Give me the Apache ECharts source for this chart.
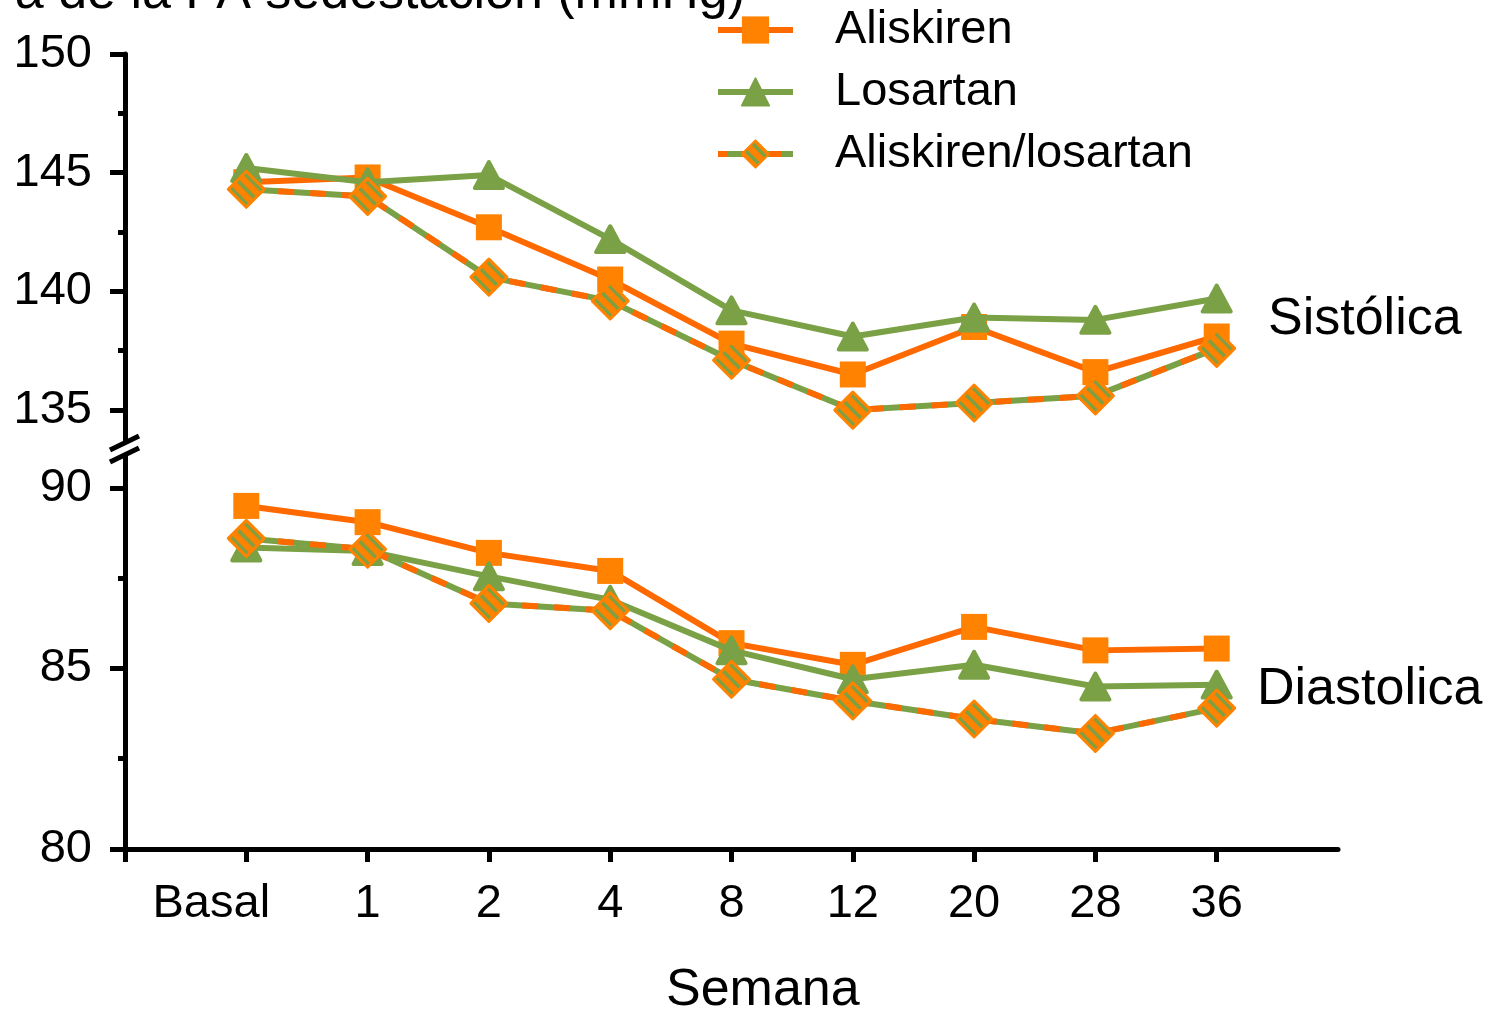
<!DOCTYPE html>
<html>
<head>
<meta charset="utf-8">
<script src="https://cdn.jsdelivr.net/npm/echarts@6/dist/echarts.min.js"></script>
<style>
html,body{margin:0;padding:0;background:#fff;}
#chart{width:1496px;height:1011px;}
</style>
</head>
<body>
<div id="chart"></div>
<script>
// ---- data ----
const weekLabels = ['Basal', '1', '2', '4', '8', '12', '20', '28', '36'];
const sysAliskiren = [144.6, 144.8, 142.7, 140.5, 137.8, 136.5, 138.5, 136.6, 138.1];
const sysLosartan  = [145.2, 144.6, 144.9, 142.2, 139.2, 138.1, 138.9, 138.8, 139.7];
const sysCombo     = [144.3, 144.0, 140.6, 139.6, 137.1, 135.0, 135.3, 135.6, 137.6];
const diaAliskiren = [89.5, 89.05, 88.2, 87.7, 85.7, 85.1, 86.15, 85.5, 85.55];
const diaLosartan  = [88.35, 88.25, 87.55, 86.9, 85.5, 84.7, 85.1, 84.5, 84.55];
const diaCombo     = [88.6, 88.3, 86.8, 86.6, 84.7, 84.1, 83.6, 83.2, 83.9];
const sysTicks = [135, 140, 145, 150];
const sysMinorTicks = [137.5, 142.5, 147.5];
const diaTicks = [80, 85, 90];
const diaMinorTicks = [82.5, 87.5];

const categories = [''].concat(weekLabels).concat(['']);
const toPts = arr => arr.map((v, i) => [i + 1, v]);

const ORANGE_LINE = '#FF6A00';
const ORANGE = '#FF8200';
const GREEN = '#7AA145';
const FONT = 'Liberation Sans, Arial, sans-serif';
const DIAMOND = 36;

// striped pattern for combination symbol
const tile = document.createElement('canvas');
tile.width = 14; tile.height = 14;
const c = tile.getContext('2d');
c.fillStyle = ORANGE; c.fillRect(0, 0, 14, 14);
c.strokeStyle = GREEN; c.lineWidth = 3.5;
c.beginPath();
c.moveTo(-2, -2); c.lineTo(16, 16);
c.moveTo(-9, 5); c.lineTo(2, 16);
c.moveTo(5, -9); c.lineTo(16, 2);
c.stroke();
// series symbols are drawn as a 2x2 path scaled up, so the pattern is scaled back down
const k = 2 / DIAMOND;
const stripesSeries = { image: tile, repeat: 'repeat', scaleX: k, scaleY: k };
const stripesLegend = { image: tile, repeat: 'repeat' };

// alternating orange/green line for the legend icon of the combination
const legendStops = [];
const nSeg = 6;
for (let i = 0; i < nSeg; i++) {
  const col = i % 2 === 0 ? ORANGE_LINE : GREEN;
  legendStops.push({ offset: i / nSeg, color: col });
  legendStops.push({ offset: (i + 1) / nSeg - 0.0001, color: col });
}
const legendComboLine = { type: 'linear', x: 0, y: 0, x2: 1, y2: 0, colorStops: legendStops };

const chart = echarts.init(document.getElementById('chart'), null, { renderer: 'canvas' });

function yMain(gridIndex, min, max, ticks) {
  return {
    type: 'value', gridIndex, min, max, position: 'left',
    splitLine: { show: false },
    axisLine: { show: true, lineStyle: { color: '#000', width: 5 } },
    axisTick: { show: true, customValues: ticks, length: 15, lineStyle: { color: '#000', width: 5 } },
    axisLabel: { show: true, customValues: ticks, margin: 33, color: '#000', fontSize: 47, fontFamily: FONT }
  };
}
function yMinor(gridIndex, min, max, ticks) {
  return {
    type: 'value', gridIndex, min, max, position: 'left', offset: 0,
    splitLine: { show: false },
    axisLine: { show: false },
    axisTick: { show: true, customValues: ticks, length: 7, lineStyle: { color: '#000', width: 5 } },
    axisLabel: { show: false }
  };
}

const lineSeries = (name, x, y, data, kind) => {
  if (kind === 'aliskiren') {
    return { name, type: 'line', xAxisIndex: x, yAxisIndex: y, data, z: 3,
      symbol: 'rect', symbolSize: 26, showAllSymbol: true,
      lineStyle: { color: ORANGE_LINE, width: 6 },
      itemStyle: { color: ORANGE, borderWidth: 0 } };
  }
  if (kind === 'losartan') {
    return { name, type: 'line', xAxisIndex: x, yAxisIndex: y, data, z: 4,
      symbol: 'triangle', symbolSize: [28, 26],
      lineStyle: { color: GREEN, width: 6 },
      itemStyle: { color: GREEN, borderColor: GREEN, borderWidth: 4, borderJoin: 'round' } };
  }
  if (kind === 'comboBase') {
    return { name, type: 'line', xAxisIndex: x, yAxisIndex: y, data, z: 5,
      symbol: 'none', lineStyle: { color: GREEN, width: 6 }, silent: true };
  }
  return { name, type: 'line', xAxisIndex: x, yAxisIndex: y, data, z: 6,
    symbol: 'diamond', symbolSize: DIAMOND,
    lineStyle: { color: ORANGE_LINE, width: 6, type: [16, 16] },
    itemStyle: { color: stripesSeries, borderColor: ORANGE, borderWidth: 3, borderJoin: 'round' } };
};

const option = {
  backgroundColor: '#fff',
  animation: false,
  textStyle: { fontFamily: FONT },
  grid: [
    { left: 125, top: 54, width: 1213, height: 386, outerBoundsMode: 'none', containLabel: false },
    { left: 125, top: 455, width: 1213, height: 394, outerBoundsMode: 'none', containLabel: false }
  ],
  legend: {
    data: ['Aliskiren', 'Losartan',
      { name: 'Aliskiren/losartan', itemStyle: { color: stripesLegend, borderColor: ORANGE, borderWidth: 2 },
        lineStyle: { color: legendComboLine, type: 'solid', width: 6 } }],
    orient: 'vertical', left: 710, top: 0,
    itemWidth: 75, itemHeight: 34, itemGap: 12,
    lineStyle: { width: 6 },
    textStyle: { fontSize: 47, color: '#000', fontFamily: FONT, lineHeight: 50, padding: [0, 0, 0, 37] },
    selectedMode: false
  },
  xAxis: [
    { type: 'category', gridIndex: 0, data: categories, boundaryGap: false, show: false },
    { type: 'category', gridIndex: 1, data: categories, boundaryGap: false,
      axisLine: { lineStyle: { color: '#000', width: 5 } },
      axisTick: { show: true, length: 13, interval: (i) => i <= 9, lineStyle: { color: '#000', width: 5 } },
      axisLabel: { interval: 0, margin: 32, color: '#000', fontSize: 47, fontFamily: FONT,
        formatter: v => v === 'Basal' ? '{b|Basal}' : v,
        rich: { b: { fontSize: 47, fontFamily: FONT, color: '#000', padding: [0, 70, 0, 0] } } },
      splitLine: { show: false } }
  ],
  yAxis: [
    yMain(0, 133.74, 150, sysTicks),
    yMinor(0, 133.74, 150, sysMinorTicks),
    yMain(1, 80, 90.91, diaTicks),
    yMinor(1, 80, 90.91, diaMinorTicks)
  ],
  series: [
    lineSeries('Aliskiren', 0, 0, toPts(sysAliskiren), 'aliskiren'),
    lineSeries('Aliskiren', 1, 2, toPts(diaAliskiren), 'aliskiren'),
    lineSeries('Losartan', 0, 0, toPts(sysLosartan), 'losartan'),
    lineSeries('Losartan', 1, 2, toPts(diaLosartan), 'losartan'),
    lineSeries('combo-base', 0, 0, toPts(sysCombo), 'comboBase'),
    lineSeries('combo-base', 1, 2, toPts(diaCombo), 'comboBase'),
    lineSeries('Aliskiren/losartan', 0, 0, toPts(sysCombo), 'combo'),
    lineSeries('Aliskiren/losartan', 1, 2, toPts(diaCombo), 'combo')
  ],
  graphic: [
    { type: 'text', right: 751, top: -32, silent: true,
      style: { text: 'a de la PA sedestación (mmHg)', fontSize: 52, fontFamily: FONT, fill: '#000' } },
    { type: 'text', left: 1268, top: 294, silent: true,
      style: { text: 'Sistólica', fontSize: 52, fontFamily: FONT, fill: '#000' } },
    { type: 'text', left: 1257, top: 664, silent: true,
      style: { text: 'Diastolica', fontSize: 52, fontFamily: FONT, fill: '#000' } },
    { type: 'text', left: 666, top: 965, silent: true,
      style: { text: 'Semana', fontSize: 52, fontFamily: FONT, fill: '#000' } },
    { type: 'line', silent: true, shape: { x1: 110, y1: 450, x2: 139, y2: 436 },
      style: { stroke: '#000', lineWidth: 5 } },
    { type: 'line', silent: true, shape: { x1: 110, y1: 462, x2: 139, y2: 448 },
      style: { stroke: '#000', lineWidth: 5 } }
  ]
};
chart.setOption(option);
</script>
</body>
</html>
